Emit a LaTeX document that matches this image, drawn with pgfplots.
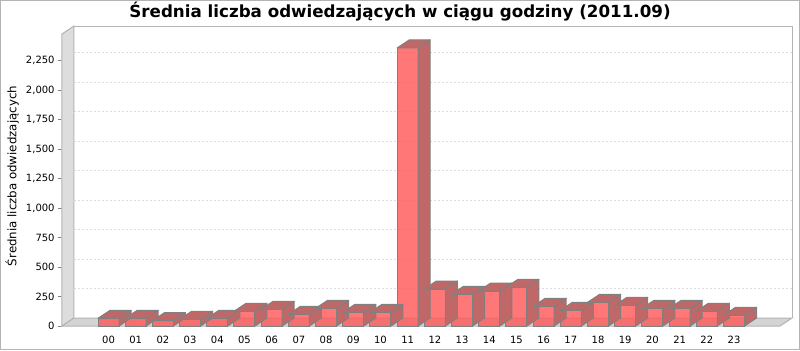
\documentclass[border=0pt]{standalone}
\usepackage{pgfplots}
\usepackage{pgfplotstable}
\pgfplotsset{compat=1.18}
\usepackage{fontspec}
\setmainfont{DejaVu Sans}
\definecolor{barfront}{HTML}{FF5656}
\definecolor{barside}{HTML}{C06868}
\definecolor{wallc}{HTML}{DDDDDD}
\definecolor{floorc}{HTML}{D4D4D4}
\definecolor{edgec}{HTML}{808080}
\definecolor{gridc}{HTML}{DCDCDC}
\definecolor{framec}{HTML}{B4B4B4}
\pgfdeclareplotmark{nothing}{}
\pgfplotstableread{
h v
0 65
1 65
2 45
3 57
4 65
5 125
6 142
7 99
8 150
9 116
10 116
11 2360
12 314
13 269
14 297
15 328
16 167
17 133
18 201
19 175
20 150
21 150
22 125
23 91
}\datatable
\begin{document}
\begin{tikzpicture}
\path[use as bounding box] (-31pt,-12pt) rectangle (369pt,163pt);
\fill[white] (-31pt,-12pt) rectangle (369pt,163pt);
\draw[framec, line width=0.5pt] (-30.75pt,-11.75pt) rectangle (368.75pt,162.75pt);
\begin{axis}[
  at={(0pt,0pt)}, anchor=south west,
  scale only axis, width=359pt, height=146pt,
  xmin=-1.71, xmax=24.69, ymin=0, ymax=2478,
  clip=false,
  axis line style={draw=none},
  ytick={0,250,...,2250},
  xtick={0,...,23},
  xticklabels={00,01,02,03,04,05,06,07,08,09,10,11,12,13,14,15,16,17,18,19,20,21,22,23},
  ytick pos=left, xtick pos=bottom,
  tick align=outside, major tick length=2pt,
  ytick style={draw=edgec, line width=0.5pt},
  xtick style={draw=none},
  /pgf/number format/1000 sep={,},
  /pgf/number format/assume math mode=true,
  yticklabel style={font=\fontsize{5pt}{6pt}\selectfont, inner sep=0pt, xshift=-1.5pt},
  xticklabel style={font=\fontsize{5pt}{6pt}\selectfont, inner sep=0pt, yshift=-2.85pt},
  ymajorgrids,
  major grid style={gridc, line width=0.5pt, dash pattern=on 1pt off 1pt, xshift=6pt, yshift=4pt},
]
% left wall and floor
\filldraw[fill=wallc, draw=framec, line width=0.5pt] (axis cs:-1.71,0) -- ++(6pt,4pt) -- ([xshift=6pt,yshift=4pt]axis cs:-1.71,2478) -- (axis cs:-1.71,2478) -- cycle;
\filldraw[fill=floorc, draw=framec, line width=0.5pt] (axis cs:-1.71,0) -- (axis cs:24.69,0) -- ++(6pt,4pt) -- ([xshift=6pt,yshift=4pt]axis cs:-1.71,0) -- cycle;
\draw[framec, line width=0.5pt] ([xshift=6pt,yshift=4pt]axis cs:-1.71,2478) -- ([xshift=6pt,yshift=4pt]axis cs:24.69,2478) -- ([xshift=6pt,yshift=4pt]axis cs:24.69,0);
\pgfplotsinvokeforeach{250,500,750,1000,1250,1500,1750,2000,2250}{
  \draw[gridc, line width=0.5pt, dash pattern=on 1pt off 1pt] (axis cs:-1.71,#1) -- ++(6pt,4pt);
}
% side and top faces
\addplot[scatter, only marks, mark=nothing,
  visualization depends on={\thisrow{v} \as \barv},
  scatter/@pre marker code/.code={%
    \pgfmathsetmacro\hh{\barv*0.0589185}%
    \pgfmathsetmacro\hb{4-\hh}%
    \pgfmathsetmacro\hm{-\hh}%
    \filldraw[fill=barside, draw=edgec, line width=0.5pt, line join=round]
      (5.25pt,0pt) -- (11.25pt,4pt) -- (11.25pt,\hb pt) -- (5.25pt,\hm pt) -- cycle;
    \filldraw[fill=barside, draw=edgec, line width=0.5pt, line join=round]
      (-5.25pt,0pt) -- (5.25pt,0pt) -- (11.25pt,4pt) -- (0.75pt,4pt) -- cycle;
  },
  scatter/@post marker code/.code={},
] table[x=h, y=v] {\datatable};
% front faces
\addplot[ybar, bar width=10.5pt, fill=barfront, fill opacity=0.8, draw=edgec, line width=0.5pt]
  table[x=h, y=v] {\datatable};
\end{axis}
\node[anchor=base, font=\fontsize{8.35pt}{10pt}\selectfont\bfseries] at (169pt,154.3pt) {Średnia liczba odwiedzających w ciągu godziny (2011.09)};
\node[anchor=base, rotate=90, font=\fontsize{5.9pt}{7pt}\selectfont] at (-22.75pt,75pt) {Średnia liczba odwiedzających};
\end{tikzpicture}
\end{document}
